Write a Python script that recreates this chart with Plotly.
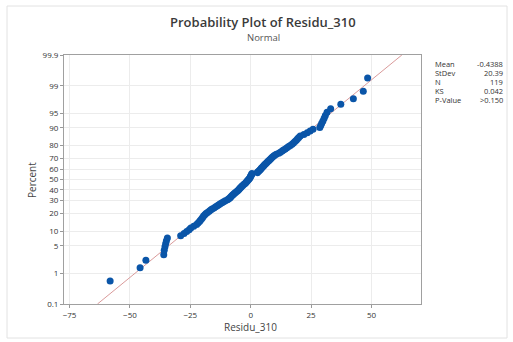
import plotly.graph_objects as go
from statistics import NormalDist

# ---- data (sorted residuals) ----
residuals = [
    -58.2, -45.8, -43.4, -36.0, -35.8, -35.5, -35.2, -34.9, -34.5, -29.0,
    -27.6, -26.5, -25.5, -24.8, -23.6, -22.4, -21.8, -21.2, -20.8, -20.3,
    -19.9, -19.5, -19.0, -18.5, -17.9, -17.2, -16.6, -16.0, -15.2, -14.5,
    -13.8, -13.2, -12.6, -11.9, -11.2, -10.5, -9.6, -9.1, -8.6, -8.3,
    -7.9, -7.5, -7.1, -6.7, -6.3, -5.8, -5.4, -5.0, -4.7, -4.4,
    -4.0, -3.7, -3.3, -2.9, -2.5, -2.1, -1.8, -1.5, -1.2, -0.9,
    -0.6, -0.3, -0.2, 0.0, 0.2, 0.4, 0.5, 2.7, 3.0, 3.4,
    3.8, 4.1, 4.4, 4.7, 5.1, 5.4, 5.7, 6.1, 6.5, 6.9,
    7.3, 7.7, 8.1, 8.5, 8.9, 9.4, 9.9, 10.6, 11.6, 12.3,
    13.0, 13.6, 14.3, 15.0, 15.7, 16.4, 17.1, 17.7, 18.3, 18.9,
    19.4, 19.9, 20.5, 22.0, 23.4, 24.6, 25.8, 28.6, 29.0, 29.4,
    29.9, 30.4, 30.9, 31.6, 33.1, 37.3, 42.5, 46.6, 48.4,
]
fit_mean = -0.4388
fit_stdev = 20.39
stat_labels = ["Mean", "StDev", "N", "KS", "P-Value"]
stat_values = ["-0.4388", "20.39", "119", "0.042", ">0.150"]
pct_ticks = [0.1, 1, 5, 10, 20, 30, 40, 50, 60, 70, 80, 90, 95, 99, 99.9]
pct_tick_text = ["0.1", "1", "5", "10", "20", "30", "40", "50", "60", "70", "80", "90", "95", "99", "99.9"]
x_ticks = [-75, -50, -25, 0, 25, 50]

nd = NormalDist()
n = len(residuals)
# median-rank plotting positions, mapped onto the normal-probability (probit) scale
probit = [nd.inv_cdf((i + 1 - 0.3) / (n + 0.4)) for i in range(n)]
y_lo, y_hi = nd.inv_cdf(0.001), nd.inv_cdf(0.999)
fit_z = [y_lo, y_hi]
fit_x = [fit_mean + fit_stdev * z for z in fit_z]

# plot-area geometry in pixels (for annotation placement)
W, H = 513, 342
L, R, T, B = 64, 421, 55, 304
pw, ph = R - L, B - T
def px(x):
    return (x - L) / pw
def py(y):
    return (B - y) / ph

fig = go.Figure()
fig.add_trace(go.Scatter(x=fit_x, y=fit_z, mode="lines",
                         line=dict(color="#d99a9a", width=1), hoverinfo="skip"))
fig.add_trace(go.Scatter(x=residuals, y=probit, mode="markers",
                         marker=dict(color="#0a55a8", size=7)))

FONT = "Open Sans, Noto Sans, sans-serif"
axis_font = dict(family=FONT, size=8, color="#333")
fig.update_xaxes(range=[-77.3, 70.5], tickvals=x_ticks, ticks="outside", ticklen=3,
                 tickcolor="#999", tickfont=axis_font, showgrid=True, gridcolor="#ececec",
                 showline=True, linecolor="#a0a0a0", linewidth=1, mirror=True, zeroline=False)
fig.update_yaxes(range=[y_lo, y_hi], tickvals=[nd.inv_cdf(p / 100) for p in pct_ticks],
                 ticktext=pct_tick_text, ticks="outside", ticklen=3, tickcolor="#999",
                 tickfont=axis_font, showgrid=True, gridcolor="#ececec",
                 showline=True, linecolor="#a0a0a0", linewidth=1, mirror=True, zeroline=False)

ann = []
ann.append(dict(text="Probability Plot of Residu_310", x=px(263), y=py(22), xref="paper", yref="paper",
                showarrow=False, xanchor="center", yanchor="middle",
                font=dict(family=FONT, size=13, color="#3a3a3a", weight=600)))
ann.append(dict(text="Normal", x=px(263), y=py(37), xref="paper", yref="paper",
                showarrow=False, xanchor="center", yanchor="middle",
                font=dict(family=FONT, size=9.5, color="#555")))
ann.append(dict(text="Percent", x=px(32), y=py(180), xref="paper", yref="paper", textangle=-90,
                showarrow=False, xanchor="center", yanchor="middle",
                font=dict(family=FONT, size=10, color="#444")))
ann.append(dict(text="Residu_310", x=px(250), y=py(327), xref="paper", yref="paper",
                showarrow=False, xanchor="center", yanchor="middle",
                font=dict(family=FONT, size=10, color="#444")))
for k, (lab, val) in enumerate(zip(stat_labels, stat_values)):
    yy = py(64 + k * 9)
    ann.append(dict(text=lab, x=px(433), y=yy, xref="paper", yref="paper", showarrow=False,
                    xanchor="left", yanchor="middle",
                    font=dict(family=FONT, size=7.5, color="#333")))
    ann.append(dict(text=val, x=px(505), y=yy, xref="paper", yref="paper", showarrow=False,
                    xanchor="right", yanchor="middle",
                    font=dict(family=FONT, size=7.5, color="#333")))

fig.update_layout(
    width=W, height=H, margin=dict(l=L, r=W - R, t=T, b=H - B),
    paper_bgcolor="white", plot_bgcolor="white", showlegend=False,
    annotations=ann,
    shapes=[dict(type="rect", xref="paper", yref="paper",
                 x0=px(7), x1=px(507), y0=py(6), y1=py(338),
                 line=dict(color="#e2e2e2", width=1), layer="below")],
)
fig.write_html("out.html")
